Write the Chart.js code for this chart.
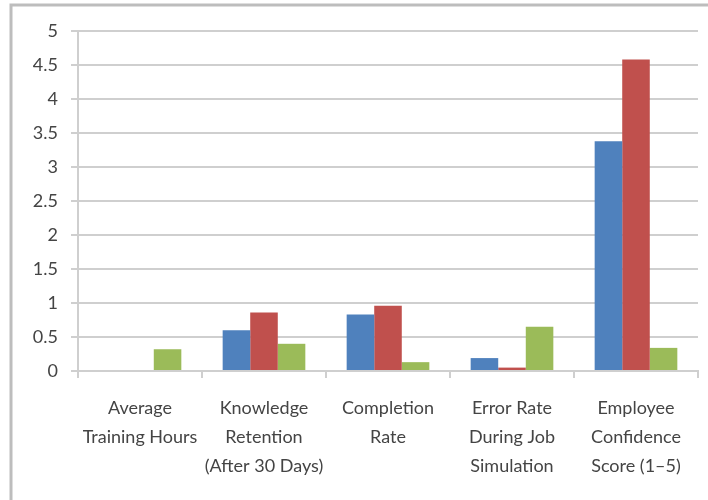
<!DOCTYPE html>
<html>
<head>
<meta charset="utf-8">
<script src="https://cdn.jsdelivr.net/npm/chart.js@4.4.1/dist/chart.umd.min.js"></script>
<style>
  html, body { margin: 0; padding: 0; background: #fff; }
  #wrap { width: 708px; height: 500px; position: relative; }
</style>
</head>
<body>
<div id="wrap"><canvas id="chart_trainingOutcomes"></canvas></div>
<script>
// categories and the three series, one value per category
var categories = [
    ['Average', 'Training Hours'],
    ['Knowledge', 'Retention', '(After 30 Days)'],
    ['Completion', 'Rate'],
    ['Error Rate', 'During Job', 'Simulation'],
    ['Employee', 'Confidence', 'Score (1\u20135)']
];
var series1 = [0, 0.60, 0.83, 0.19, 3.38];
var series2 = [0, 0.86, 0.96, 0.05, 4.58];
var series3 = [0.32, 0.40, 0.13, 0.65, 0.34];
var yMin = 0, yMax = 5, yStep = 0.5;

var textColor = '#444444';
var gridColor = '#cfcfcf';
var fontFamily = "Lato, 'Noto Sans', sans-serif";

var chart_trainingOutcomes = new Chart(document.getElementById('chart_trainingOutcomes'), {
    type: 'bar',
    data: {
        labels: categories,
        datasets: [
            { label: 'Series1', data: series1, backgroundColor: '#4f81bd' },
            { label: 'Series2', data: series2, backgroundColor: '#c0504d' },
            { label: 'Series3', data: series3, backgroundColor: '#9bbb59' }
        ]
    },
    options: {
        animation: false,
        responsive: true,
        maintainAspectRatio: false,
        layout: { padding: { left: 0, right: 10, top: 31, bottom: 0 } },
        datasets: {
            bar: { categoryPercentage: 3 / 4.5, barPercentage: 1 }
        },
        plugins: {
            legend: { display: false },
            tooltip: { enabled: false }
        },
        scales: {
            x: {
                grid: {
                    offset: true,
                    drawOnChartArea: false,
                    drawTicks: true,
                    tickLength: 7,
                    color: gridColor,
                    lineWidth: 2
                },
                border: { display: true, color: gridColor, width: 2 },
                ticks: {
                    color: textColor,
                    padding: 16,
                    maxRotation: 0,
                    autoSkip: false,
                    font: { family: fontFamily, size: 18, lineHeight: '29px' }
                },
                afterFit: function (scale) { scale.height = 129; }
            },
            y: {
                min: yMin,
                max: yMax,
                grid: {
                    color: gridColor,
                    lineWidth: 2,
                    tickLength: 7
                },
                border: { display: true, color: gridColor, width: 2 },
                ticks: {
                    stepSize: yStep,
                    color: textColor,
                    padding: 13,
                    font: { family: fontFamily, size: 18 },
                    // plain numbers: 5, 4.5, 4 ...
                    callback: function (value) { return String(value); }
                },
                afterFit: function (scale) { scale.width = 78; }
            }
        }
    },
    plugins: [{
        id: 'frame',
        beforeDraw: (chart) => {
            const ctx = chart.ctx;
            ctx.save();
            ctx.fillStyle = 'white';
            ctx.fillRect(0, 0, chart.width, chart.height);
            // outer frame: top and left edges
            ctx.strokeStyle = '#bdbdbd';
            ctx.lineWidth = 3;
            ctx.beginPath();
            ctx.moveTo(11, chart.height);
            ctx.lineTo(11, 5);
            ctx.lineTo(chart.width, 5);
            ctx.stroke();
            ctx.restore();
        }
    }]
});
</script>
</body>
</html>
